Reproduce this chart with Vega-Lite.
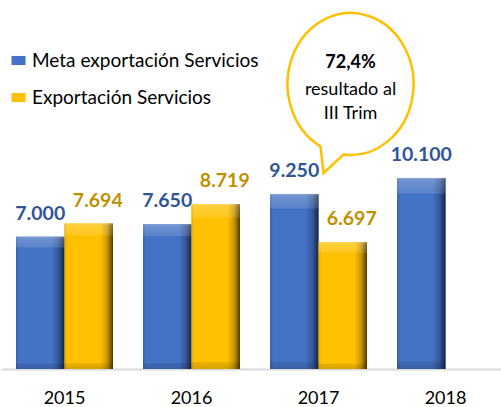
{
  "$schema": "https://vega.github.io/schema/vega-lite/v6.json",
  "width": 500,
  "height": 369,
  "autosize": {"type": "none"},
  "padding": {"left": 1, "top": 0, "right": 0, "bottom": 38},
  "background": "white",
  "config": {
    "view": {"stroke": null},
    "font": "Lato",
    "locale": {"number": {"decimal": ",", "thousands": ".", "grouping": [3], "currency": ["", ""]}}
  },
  "data": {
    "values": [
      {"year": "2015", "series": "Meta exportación Servicios", "value": 7000},
      {"year": "2015", "series": "Exportación Servicios", "value": 7694},
      {"year": "2016", "series": "Meta exportación Servicios", "value": 7650},
      {"year": "2016", "series": "Exportación Servicios", "value": 8719},
      {"year": "2017", "series": "Meta exportación Servicios", "value": 9250},
      {"year": "2017", "series": "Exportación Servicios", "value": 6697},
      {"year": "2018", "series": "Meta exportación Servicios", "value": 10100}
    ]
  },
  "encoding": {
    "x": {
      "field": "year",
      "type": "nominal",
      "scale": {"paddingInner": 0.2362, "paddingOuter": 0.0866, "align": 0.682},
      "axis": {
        "title": null,
        "labelAngle": 0,
        "ticks": false,
        "tickSize": 0,
        "labelPadding": 34,
        "labelBaseline": "alphabetic",
        "labelFont": "Lato",
        "labelFontSize": 18,
        "labelColor": "#000000",
        "domainColor": "#D9D9D9",
        "domainWidth": 2,
        "grid": false
      }
    },
    "y": {
      "field": "value",
      "type": "quantitative",
      "scale": {"domain": [0, 19513], "nice": false, "zero": true},
      "axis": null
    }
  },
  "layer": [
    {
      "mark": {"type": "bar"},
      "encoding": {
        "xOffset": {"field": "series", "type": "nominal", "scale": {"domain": ["Meta exportación Servicios", "Exportación Servicios"]}},
        "color": {
          "field": "series",
          "type": "nominal",
          "scale": {"domain": ["Meta exportación Servicios", "Exportación Servicios"], "range": ["#4472C4", "#FFC000"]},
          "legend": {
            "title": null,
            "orient": "none",
            "legendX": 8,
            "legendY": 51,
            "padding": 0,
            "symbolType": "M-1,-0.65L1,-0.65L1,0.65L-1,0.65Z",
            "symbolSize": 196,
            "symbolStrokeWidth": 0,
            "symbolOpacity": 1,
            "labelFont": "Lato",
            "labelFontSize": 19,
            "labelColor": "#000000",
            "labelLimit": 400,
            "labelOffset": 4,
            "rowPadding": 17
          }
        }
      }
    },
    {
      "mark": {"type": "bar"},
      "encoding": {
        "xOffset": {"field": "series", "type": "nominal"},
        "fill": {
          "condition": {
            "test": "datum.series === 'Meta exportación Servicios'",
            "value": {
              "gradient": "linear", "x1": 0, "y1": 0, "x2": 1, "y2": 0,
              "stops": [
                {"offset": 0, "color": "#3A62AA"},
                {"offset": 0.06, "color": "#4472C4"},
                {"offset": 0.74, "color": "#4472C4"},
                {"offset": 0.88, "color": "#33579A"},
                {"offset": 1, "color": "#18253F"}
              ]
            }
          },
          "value": {
            "gradient": "linear", "x1": 0, "y1": 0, "x2": 1, "y2": 0,
            "stops": [
              {"offset": 0, "color": "#E3AB00"},
              {"offset": 0.06, "color": "#FFC000"},
              {"offset": 0.74, "color": "#FFC000"},
              {"offset": 0.88, "color": "#C99600"},
              {"offset": 1, "color": "#4F3B00"}
            ]
          }
        }
      }
    },
    {
      "mark": {
        "type": "bar",
        "fill": {
          "gradient": "linear", "x1": 0, "y1": 0, "x2": 0, "y2": 1,
          "stops": [
            {"offset": 0, "color": "rgba(255,255,255,0.35)"},
            {"offset": 0.015, "color": "rgba(255,255,255,0.22)"},
            {"offset": 0.08, "color": "rgba(255,255,255,0.12)"},
            {"offset": 0.085, "color": "rgba(255,255,255,0)"},
            {"offset": 0.955, "color": "rgba(0,0,0,0)"},
            {"offset": 0.96, "color": "rgba(0,0,0,0.08)"},
            {"offset": 1, "color": "rgba(0,0,0,0.16)"}
          ]
        }
      },
      "encoding": {
        "xOffset": {"field": "series", "type": "nominal"}
      }
    },
    {
      "data": {"values": [{"year": "2017", "value": 15071}]},
      "mark": {
        "type": "point",
        "shape": "M-0.423,0.879A0.887,1,0,1,1,-0.099,0.994L-0.38,1.254Z",
        "size": 20164,
        "filled": true,
        "fill": "white",
        "stroke": "#FFC000",
        "strokeWidth": 2.5,
        "opacity": 1,
        "xOffset": 32
      }
    },
    {
      "data": {"values": [{"year": "2017", "value": 15917}]},
      "mark": {"type": "text", "text": "72,4%", "font": "Lato", "fontSize": 18, "fontWeight": "bold", "color": "#000000", "baseline": "alphabetic", "align": "center", "dx": 32}
    },
    {
      "data": {"values": [{"year": "2017", "value": 14489}]},
      "mark": {"type": "text", "text": "resultado al", "font": "Lato", "fontSize": 18, "color": "#000000", "baseline": "alphabetic", "align": "center", "dx": 32}
    },
    {
      "data": {"values": [{"year": "2017", "value": 13204}]},
      "mark": {"type": "text", "text": "III Trim", "font": "Lato", "fontSize": 18, "color": "#000000", "baseline": "alphabetic", "align": "center", "dx": 32}
    },
    {
      "transform": [{"filter": "datum.series === 'Meta exportación Servicios'"}],
      "mark": {"type": "text", "font": "Lato", "fontSize": 19.5, "fontWeight": "bold", "color": "#2F5597", "baseline": "alphabetic", "align": "center", "dy": -17},
      "encoding": {
        "xOffset": {"field": "series", "type": "nominal"},
        "text": {"field": "value", "type": "quantitative", "format": ",.0f"}
      }
    },
    {
      "transform": [{"filter": "datum.series === 'Exportación Servicios'"}],
      "mark": {"type": "text", "font": "Lato", "fontSize": 19.5, "fontWeight": "bold", "color": "#BF9000", "baseline": "alphabetic", "align": "center", "dy": -17, "dx": 9},
      "encoding": {
        "xOffset": {"field": "series", "type": "nominal"},
        "text": {"field": "value", "type": "quantitative", "format": ",.0f"}
      }
    }
  ]
}
